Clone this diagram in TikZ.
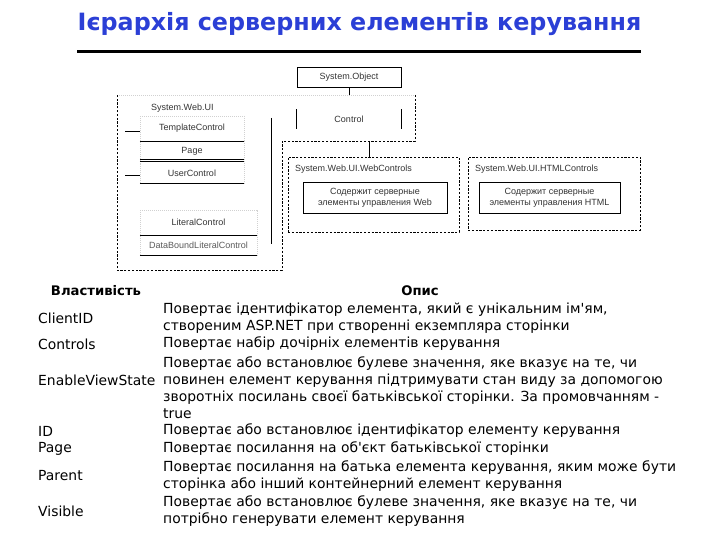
\documentclass[tikz,border=0pt]{standalone}
\usepackage{fontspec}
\setmainfont{DejaVu Sans}
\newfontfamily\diagfont{Liberation Sans}
\definecolor{titleblue}{RGB}{43,63,214}
\newcommand{\apos}{\textquotesingle}
\tikzset{
  dtext/.style={font=\diagfont\fontsize{9}{11.2}\selectfont, text=black!80, inner sep=0pt},
  solidbox/.style={draw, line width=0.7pt},
  nsbox/.style={draw, dash pattern=on 2.2pt off 1.6pt, line width=0.7pt},
  faintline/.style={draw=black!18, dash pattern=on 1pt off 1pt, line width=0.5pt},
  sepline/.style={line width=0.8pt},
  prop/.style={font=\fontsize{13.9}{17}\selectfont, anchor=west, inner sep=0pt},
  desc/.style={font=\fontsize{13.9}{17}\selectfont, anchor=west, align=left, inner sep=0pt},
  head/.style={font=\bfseries\fontsize{13.2}{16.5}\selectfont, inner sep=0pt}
}
\begin{document}
\begin{tikzpicture}[x=1pt,y=-1pt]
\useasboundingbox (0,0) rectangle (720,540);
% Title
\node[font=\bfseries\fontsize{23.8}{28}\selectfont, text=titleblue, inner sep=0pt] (title) at (359.5,24) {Ієрархія серверних елементів керування};
\coordinate (ulL) at (77,52);
\coordinate (ulR) at (641,52);
\draw[line width=3pt] (ulL) -- (ulR);

% ---------- diagram ----------
\node[solidbox, dtext, minimum width=104pt, minimum height=20pt] (sysobj) at (349,77) {System.Object};
% outer System.Web.UI region
\coordinate (uiTL) at (117,95);
\coordinate (uiTR) at (415,95);
\coordinate (uiR1) at (415,141);
\coordinate (uiR2) at (282,141);
\coordinate (uiBR) at (282,270);
\coordinate (uiBL) at (117,270);
\draw[faintline] (uiTL) -- (uiTR);
\draw[nsbox] (uiTR) -- (uiR1) -- (uiR2) -- (uiBR) -- (uiBL) -- (uiTL);
\coordinate (uiTop) at (349,95);
\draw[line width=0.7pt] (sysobj.south) -- (uiTop);

\node[dtext] (uilabel) at (151,108) [anchor=west] {System.Web.UI};

% Control
\node[dtext, minimum width=104pt, minimum height=19pt] (control) at (349,119) {Control};
\draw[line width=0.7pt] (control.north west) -- (control.south west);
\draw[line width=0.7pt] (control.north east) -- (control.south east);

% long vertical
\coordinate (vTop) at (271,118);
\coordinate (vBot) at (271,244);
\draw[line width=0.7pt] (vTop) -- (vBot);

% left stack
\node[dtext, minimum width=104pt, minimum height=25pt] (tc) at (192,128.5) {TemplateControl};
\node[dtext, minimum width=104pt, minimum height=20pt] (page) at (192,151) {Page};
\node[dtext, minimum width=104pt, minimum height=20pt] (uc) at (192,173) {UserControl};
\draw[faintline] (tc.south west) |- (tc.north east) -- (tc.south east);
\draw[faintline] (page.south west) -- (page.north west) (page.north east) -- (page.south east);
\draw[faintline] (uc.south west) -- (uc.north west) (uc.north east) -- (uc.south east);
\draw[sepline] (tc.south west) -- (tc.south east);
\draw[sepline] (page.south west) -- (page.south east);
\draw[sepline] ([yshift=2pt]page.south west) -- ([yshift=2pt]page.south east);
\draw[sepline] (uc.south west) -- (uc.south east);
\draw[line width=0.7pt] ([yshift=-3pt]tc.west) -- ++(-15,0);
\draw[line width=0.7pt] ([yshift=-2pt]uc.west) -- ++(-15,0);

\node[dtext, minimum width=117pt, minimum height=25pt] (lit) at (198.5,222.5) {LiteralControl};
\node[dtext, text=black!65, minimum width=117pt, minimum height=20pt] (dblit) at (198.5,245) {DataBoundLiteralControl};
\draw[faintline] (lit.south west) |- (lit.north east) -- (lit.south east);
\draw[faintline] (dblit.south west) -- (dblit.north west) (dblit.north east) -- (dblit.south east);
\draw[sepline] (lit.south west) -- (lit.south east);
\draw[sepline] (dblit.south west) -- (dblit.south east);

% WebControls namespace
\node[nsbox, minimum width=171pt, minimum height=75pt] (webns) at (373.5,194.5) {};
\node[dtext, anchor=west] (weblabel) at (295,169) {System.Web.UI.WebControls};
\node[solidbox, dtext, align=center, minimum width=144pt, minimum height=31pt] (webbox) at (375,197.5) {Содержит серверные\\элементы управления Web};
\coordinate (uiBotC) at (369,141);
\draw[line width=0.7pt] (uiBotC) -- (uiBotC |- webns.north);

% HTMLControls namespace
\node[nsbox, minimum width=172pt, minimum height=73pt] (htmlns) at (554,193.5) {};
\node[dtext, anchor=west] (htmllabel) at (475,169) {System.Web.UI.HTMLControls};
\node[solidbox, dtext, align=center, minimum width=141pt, minimum height=31pt] (htmlbox) at (549.5,198) {Содержит серверные\\элементы управления HTML};

% ---------- table ----------
\node[head] (h1) at (96,291) {Властивість};
\node[head] (h2) at (420,291) {Опис};

\node[prop] (p1) at (38,318) {ClientID};
\node[desc] (d1) at (163,318) {Повертає ідентифікатор елемента, який є унікальним ім\apos ям,\\створеним ASP.NET при створенні екземпляра сторінки};
\node[prop] (p2) at (38,344) {Controls};
\node[desc] (d2) at (163,344) {Повертає набір дочірніх елементів керування};
\node[prop] (p3) at (38,380) {EnableViewState};
\node[desc] (d3) at (163,388) {Повертає або встановлює булеве значення, яке вказує на те, чи\\повинен елемент керування підтримувати стан виду за допомогою\\зворотніх посилань своєї батьківської сторінки. За промовчанням -\\true};
\node[prop] (p4) at (38,431) {ID};
\node[desc] (d4) at (163,431) {Повертає або встановлює ідентифікатор елементу керування};
\node[prop] (p5) at (38,449) {Page};
\node[desc] (d5) at (163,449) {Повертає посилання на об\apos єкт батьківської сторінки};
\node[prop] (p6) at (38,476) {Parent};
\node[desc] (d6) at (163,476) {Повертає посилання на батька елемента керування, яким може бути\\сторінка або інший контейнерний елемент керування};
\node[prop] (p7) at (38,511) {Visible};
\node[desc] (d7) at (163,511) {Повертає або встановлює булеве значення, яке вказує на те, чи\\потрібно генерувати елемент керування};
\end{tikzpicture}
\end{document}
